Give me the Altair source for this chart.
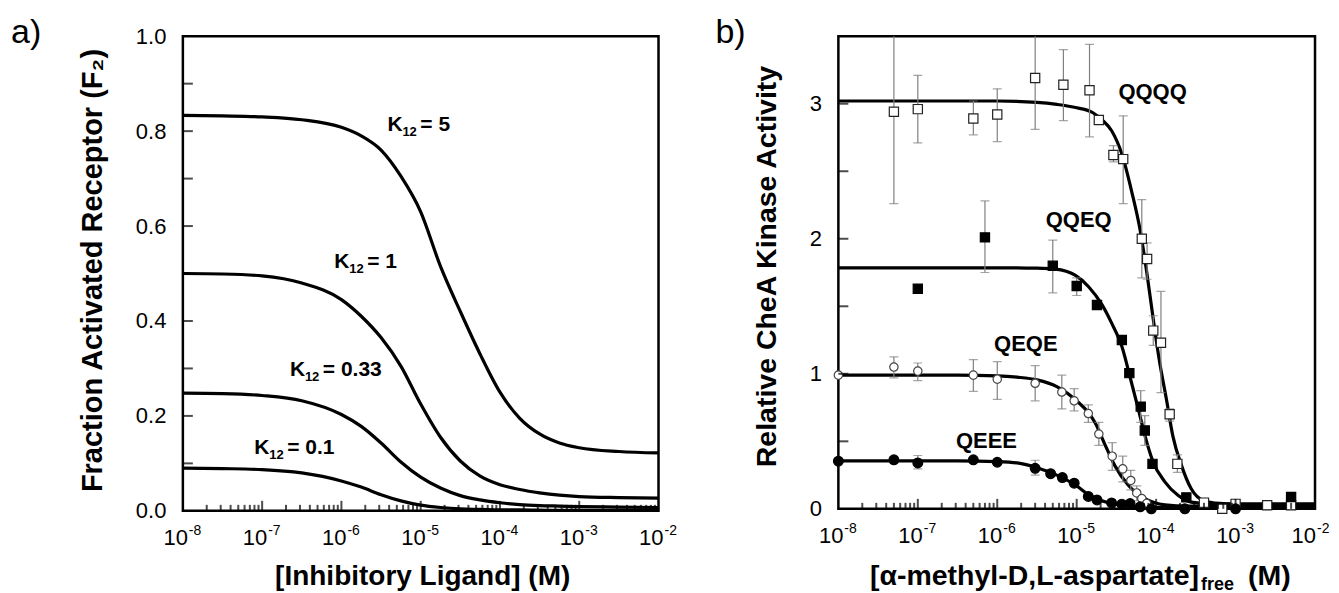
import altair as alt
import pandas as pd

FONT = "Liberation Sans"
W_A, H_A = 476, 475
W_B, H_B = 477, 473

# ---------------- panel a : model curves (log10 [L], F2) ----------------
a_lg = [-8, -7.5, -7, -6.5, -6, -5.75, -5.5, -5.25, -5, -4.75, -4.5, -4.25, -4,
        -3.75, -3.5, -3.25, -3, -2.5, -2]
a_k5 = [0.833, 0.832, 0.830, 0.824, 0.808, 0.790, 0.760, 0.705, 0.630, 0.515, 0.420,
        0.330, 0.250, 0.195, 0.162, 0.143, 0.133, 0.125, 0.122]
a_k1 = [0.500, 0.499, 0.495, 0.480, 0.445, 0.410, 0.365, 0.305, 0.225, 0.155, 0.105,
        0.073, 0.055, 0.045, 0.038, 0.033, 0.030, 0.028, 0.027]
a_k033 = [0.248, 0.247, 0.243, 0.232, 0.203, 0.178, 0.143, 0.103, 0.071, 0.048, 0.032,
          0.023, 0.017, 0.013, 0.011, 0.010, 0.009, 0.008, 0.007]
a_k01 = [0.090, 0.089, 0.087, 0.080, 0.063, 0.050, 0.034, 0.021, 0.012, 0.007, 0.004,
         0.003, 0.002, 0.002, 0.0015, 0.001, 0.001, 0.001, 0.001]
a_lab_val = ["= 5", "= 1", "= 0.33", "= 0.1"]
a_lab_lg = [-5.42, -6.09, -6.65, -7.10]
a_lab_y = [0.801, 0.512, 0.284, 0.119]

# ---------------- panel b : fitted curves ----------------
qqqq_lg = [-8, -6, -5.5, -5.25, -5, -4.8, -4.68, -4.56, -4.43, -4.31, -4.2, -4.12, -4.04,
           -3.96, -3.87, -3.79, -3.68, -3.56, -3.4, -3.2, -3, -2]
qqqq_fit = [3.02, 3.02, 3.01, 2.995, 2.97, 2.935, 2.88, 2.80, 2.625, 2.355, 2.06, 1.76, 1.42,
            1.10, 0.81, 0.54, 0.32, 0.15, 0.06, 0.04, 0.035, 0.035]
qqeq_lg = [-8, -6, -5.5, -5.27, -5.02, -4.85, -4.68, -4.56, -4.43, -4.33, -4.225, -4.14,
           -4.04, -3.89, -3.725, -3.56, -3.3, -3, -2]
qqeq_fit = [1.785, 1.785, 1.782, 1.775, 1.73, 1.645, 1.51, 1.375, 1.20, 0.98, 0.74, 0.54,
            0.35, 0.20, 0.10, 0.05, 0.036, 0.035, 0.035]
qeqe_lg = [-8, -6.5, -6, -5.75, -5.5, -5.25, -5.0, -4.85, -4.77, -4.64, -4.52, -4.35, -4.14,
           -3.89, -3.6, -3, -2]
qeqe_fit = [0.99, 0.99, 0.985, 0.975, 0.955, 0.905, 0.80, 0.71, 0.64, 0.47, 0.32, 0.175,
            0.076, 0.03, 0.02, 0.02, 0.02]
qeee_lg = [-8, -6.5, -6, -5.75, -5.5, -5.25, -5.0, -4.85, -4.72, -4.52, -4.22, -3.9, -3, -2]
qeee_fit = [0.355, 0.355, 0.35, 0.34, 0.305, 0.25, 0.17, 0.105, 0.068, 0.035, 0.016, 0.01,
            0.01, 0.01]

# ---------------- panel b : measured points ----------------
qqqq_x = [5e-8, 1e-7, 5e-7, 1e-6, 3e-6, 6.8e-6, 1.45e-5, 1.9e-5, 2.9e-5, 3.85e-5, 6.6e-5,
          7.7e-5, 9.2e-5, 1.15e-4, 1.48e-4, 1.85e-4, 4e-4, 6.8e-4, 1e-3, 2.5e-3, 5e-3]
qqqq_y = [2.94, 2.96, 2.89, 2.92, 3.19, 3.14, 3.10, 2.88, 2.62, 2.59, 2.00, 1.85, 1.32,
          1.23, 0.70, 0.333, 0.046, 0.0, 0.037, 0.027, 0.027]
qqqq_lo = [2.26, 2.71, 2.77, 2.72, 2.81, 2.875, 2.755, None, 2.57, 2.26, 1.71, 1.70, 1.21,
           0.86, 0.65, 0.27, None, None, None, None, None]
qqqq_hi = [3.6, 3.21, 3.02, 3.11, 3.6, 3.40, 3.44, None, 2.69, 2.91, 2.29, 1.97, 1.43,
           1.61, 0.74, 0.40, None, None, None, None, None]

qqeq_x = [1e-7, 7e-7, 5e-6, 1e-5, 1.8e-5, 3.7e-5, 4.6e-5, 6.4e-5, 7.2e-5, 9e-5, 2.4e-4, 5e-3]
qqeq_y = [1.63, 2.01, 1.80, 1.65, 1.51, 1.25, 1.005, 0.757, 0.58, 0.333, 0.085, 0.088]
qqeq_lo = [None, 1.75, 1.60, 1.58, None, None, None, 0.64, 0.47, None, None, 0.06]
qqeq_hi = [None, 2.28, 1.99, 1.71, None, None, None, 0.875, 0.69, None, None, 0.115]

qeqe_x = [1e-8, 5e-8, 1e-7, 5e-7, 1e-6, 3e-6, 6.5e-6, 9.3e-6, 1.4e-5, 1.9e-5, 2.8e-5,
          3.8e-5, 4.8e-5, 5.7e-5, 6.6e-5, 7.6e-5]
qeqe_y = [0.99, 1.05, 1.02, 0.99, 0.96, 0.93, 0.865, 0.80, 0.706, 0.554, 0.39, 0.296,
          0.21, 0.118, 0.076, 0.04]
qeqe_lo = [None, 0.97, 0.95, 0.87, 0.81, 0.80, 0.74, 0.725, 0.64, 0.47, 0.285, 0.20,
           0.14, 0.06, None, None]
qeqe_hi = [None, 1.125, 1.08, 1.105, 1.09, 1.06, 0.99, 0.89, 0.77, 0.64, 0.49, 0.39,
           0.285, 0.17, None, None]

qeee_x = [1e-8, 5e-8, 1e-7, 5e-7, 1e-6, 3e-6, 4.7e-6, 6.6e-6, 9.3e-6, 1.4e-5, 1.8e-5,
          2.75e-5, 3.7e-5, 4.7e-5, 6.3e-5, 8.7e-5, 2.3e-4, 1e-3]
qeee_y = [0.353, 0.363, 0.34, 0.363, 0.345, 0.30, 0.26, 0.232, 0.19, 0.092, 0.066, 0.044,
          0.035, 0.039, 0.015, 0.0, 0.0, 0.0]
qeee_lo = [None, 0.34, 0.296, None, None, 0.25, None, None, None, None, None, None,
           None, None, None, None, None, None]
qeee_hi = [None, 0.385, 0.395, None, None, 0.36, None, None, None, None, None, None,
           None, None, None, None, None, None]

b_lab = ["QQQQ", "QQEQ", "QEQE", "QEEE"]
b_lab_lg = [-4.475, -5.39, -6.04, -6.52]
b_lab_y = [3.037, 2.086, 1.167, 0.451]

# ---------------- axis tick values ----------------
dec_vals = [1e-8, 1e-7, 1e-6, 1e-5, 1e-4, 1e-3, 1e-2]
dec_exp = ["-8", "-7", "-6", "-5", "-4", "-3", "-2"]
minor_mult = [2, 3, 4, 5, 6, 7, 8, 9]


def curve_df(lg, vals, name):
    return pd.DataFrame({"conc": [10 ** v for v in lg], "val": vals, "series": name})


def pts_df(xs, ys, lo, hi):
    return pd.DataFrame({"conc": xs, "val": ys, "lo": lo, "hi": hi})


XS = alt.Scale(type="log", domain=[1e-8, 1e-2], nice=False)
X = alt.X("conc:Q", scale=XS, axis=None)


def one_row():
    return pd.DataFrame({"k": [0]})


def y_axis(values, fmt):
    return alt.Axis(values=values, format=fmt, ticks=False, domain=False, grid=False,
                    labelFont=FONT, labelFontSize=22, labelColor="black", labelPadding=17,
                    labelFlush=False, labelOverlap=False, title=None)


def x_axis_layers(H, last_shift=0):
    majors = pd.DataFrame({"conc": dec_vals[1:-1]})
    minors = pd.DataFrame({"conc": [m * d for d in dec_vals[:-1] for m in minor_mult]})
    labs_main = pd.DataFrame({"conc": dec_vals[:-1], "e": dec_exp[:-1]})
    labs_last = pd.DataFrame({"conc": dec_vals[-1:], "e": dec_exp[-1:]})
    layers = [
        alt.Chart(majors).mark_tick(orient="vertical", size=10, thickness=2, color="black")
        .encode(x=X, y=alt.value(H - 5)),
        alt.Chart(minors).mark_tick(orient="vertical", size=6, thickness=2, color="black")
        .encode(x=X, y=alt.value(H - 3)),
    ]
    for labs, sh in ((labs_main, 0), (labs_last, last_shift)):
        layers.append(alt.Chart(labs).mark_text(text="10", align="right", dx=5 - sh,
                                                baseline="alphabetic", font=FONT,
                                                fontSize=22, color="black")
                      .encode(x=X, y=alt.value(H + 34)))
        layers.append(alt.Chart(labs).mark_text(align="left", dx=6 - sh, baseline="alphabetic",
                                                font=FONT, fontSize=14, color="black")
                      .encode(x=X, y=alt.value(H + 24), text="e:N"))
    return layers


# ======================= panel a =======================
a_curves = pd.concat([curve_df(a_lg, a_k5, "5"), curve_df(a_lg, a_k1, "1"),
                      curve_df(a_lg, a_k033, "0.33"), curve_df(a_lg, a_k01, "0.1")])
YA_scale = alt.Scale(domain=[0, 1], nice=False, zero=False)
YA = alt.Y("val:Q", scale=YA_scale, axis=y_axis([0, 0.2, 0.4, 0.6, 0.8, 1.0], ".1f"))

a_line = alt.Chart(a_curves).mark_line(color="black", strokeWidth=3.2,
                                       interpolate="monotone").encode(x=X, y=YA, detail="series:N")
a_yt = alt.Chart(pd.DataFrame({"val": [0.1, 0.2, 0.3, 0.4, 0.5, 0.6, 0.7, 0.8, 0.9]})) \
    .mark_tick(orient="horizontal", size=10, thickness=2, color="black") \
    .encode(x=alt.value(5), y=YA)
a_ann = pd.DataFrame({"conc": [10 ** v for v in a_lab_lg], "val": a_lab_y, "t": a_lab_val})
a_K = alt.Chart(a_ann).mark_text(text="K", align="left", baseline="alphabetic", font=FONT,
                                 fontSize=21, fontWeight="bold", color="black").encode(x=X, y=YA)
a_sub = alt.Chart(a_ann).mark_text(text="12", align="left", baseline="alphabetic", dx=15, dy=5,
                                   font=FONT, fontSize=13, fontWeight="bold",
                                   color="black").encode(x=X, y=YA)
a_rest = alt.Chart(a_ann).mark_text(align="left", baseline="alphabetic", dx=33, font=FONT,
                                    fontSize=21, fontWeight="bold",
                                    color="black").encode(x=X, y=YA, text="t:N")
a_tag = alt.Chart(one_row()).mark_text(text="a)", align="left", baseline="alphabetic",
                                       font=FONT, fontSize=34, color="black") \
    .encode(x=alt.value(-172), y=alt.value(7))
a_ytitle = alt.Chart(one_row()).mark_text(text="Fraction Activated Receptor (F\u2082)",
                                          angle=270, align="center", baseline="middle",
                                          font=FONT, fontSize=29, fontWeight="bold",
                                          color="black") \
    .encode(x=alt.value(-90), y=alt.value(H_A / 2 - 3))
a_xtitle = alt.Chart(one_row()).mark_text(text="[Inhibitory Ligand] (M)", align="center",
                                          baseline="alphabetic", font=FONT, fontSize=28,
                                          fontWeight="bold", color="black") \
    .encode(x=alt.value(W_A / 2 + 2), y=alt.value(H_A + 74))

panel_a = alt.layer(a_line, a_yt, *x_axis_layers(H_A), a_K, a_sub, a_rest, a_tag,
                    a_ytitle, a_xtitle).properties(width=W_A, height=H_A)

# ======================= panel b =======================
b_curves = pd.concat([curve_df(qqqq_lg, qqqq_fit, "QQQQ"), curve_df(qqeq_lg, qqeq_fit, "QQEQ"),
                      curve_df(qeqe_lg, qeqe_fit, "QEQE"), curve_df(qeee_lg, qeee_fit, "QEEE")])
YB_scale = alt.Scale(domain=[0, 3.5], nice=False, zero=False)
YB_axis = y_axis([0, 1, 2, 3], "d")
YB = alt.Y("val:Q", scale=YB_scale, axis=YB_axis)
YB_lo = alt.Y("lo:Q", scale=YB_scale, axis=YB_axis)
YB_hi = alt.Y("hi:Q", scale=YB_scale, axis=YB_axis)

sets = [
    (pts_df(qqqq_x, qqqq_y, qqqq_lo, qqqq_hi), "square", "white", "#222222", 85),
    (pts_df(qqeq_x, qqeq_y, qqeq_lo, qqeq_hi), "square", "black", "black", 85),
    (pts_df(qeqe_x, qeqe_y, qeqe_lo, qeqe_hi), "circle", "white", "#444444", 70),
    (pts_df(qeee_x, qeee_y, qeee_lo, qeee_hi), "circle", "black", "black", 95),
]
err_all = pd.concat([s[0] for s in sets]).dropna(subset=["lo", "hi"])

b_line = alt.Chart(b_curves).mark_line(color="black", strokeWidth=3.2,
                                       interpolate="monotone").encode(x=X, y=YB, detail="series:N")
b_err = alt.Chart(err_all).mark_rule(color="#808080", strokeWidth=1.2, clip=True) \
    .encode(x=X, y=YB_lo, y2="hi:Q")
b_cap_lo = alt.Chart(err_all).mark_tick(orient="horizontal", size=9, thickness=1.2,
                                        color="#808080", clip=True).encode(x=X, y=YB_lo)
b_cap_hi = alt.Chart(err_all).mark_tick(orient="horizontal", size=9, thickness=1.2,
                                        color="#808080", clip=True).encode(x=X, y=YB_hi)
b_pts = [alt.Chart(df).mark_point(shape=shp, filled=True, fill=fill, stroke=stroke,
                                  strokeWidth=1.2, size=size, opacity=1)
         .encode(x=X, y=YB) for df, shp, fill, stroke, size in sets]
b_yt = alt.Chart(pd.DataFrame({"val": [0.5, 1, 1.5, 2, 2.5, 3]})) \
    .mark_tick(orient="horizontal", size=10, thickness=2, color="black") \
    .encode(x=alt.value(5), y=YB)
b_ann = pd.DataFrame({"conc": [10 ** v for v in b_lab_lg], "val": b_lab_y, "t": b_lab})
b_text = alt.Chart(b_ann).mark_text(align="left", baseline="alphabetic", font=FONT,
                                    fontSize=22, fontWeight="bold", color="black") \
    .encode(x=X, y=YB, text="t:N")
b_tag = alt.Chart(one_row()).mark_text(text="b)", align="left", baseline="alphabetic",
                                       font=FONT, fontSize=34, color="black") \
    .encode(x=alt.value(-123), y=alt.value(7))
b_ytitle = alt.Chart(one_row()).mark_text(text="Relative CheA Kinase Activity", angle=270,
                                          align="center", baseline="middle", font=FONT,
                                          fontSize=28.5, fontWeight="bold", color="black") \
    .encode(x=alt.value(-71), y=alt.value(H_B / 2 - 6))
b_xt_main = alt.Chart(one_row()).mark_text(text="[\u03b1-methyl-D,L-aspartate]", align="right",
                                           baseline="alphabetic", font=FONT, fontSize=28.5,
                                           fontWeight="bold", color="black") \
    .encode(x=alt.value(361), y=alt.value(H_B + 76))
b_xt_sub = alt.Chart(one_row()).mark_text(text="free", align="left", baseline="alphabetic",
                                          font=FONT, fontSize=18, fontWeight="bold",
                                          color="black") \
    .encode(x=alt.value(363), y=alt.value(H_B + 81))
b_xt_m = alt.Chart(one_row()).mark_text(text="(M)", align="left", baseline="alphabetic",
                                        font=FONT, fontSize=28.5, fontWeight="bold",
                                        color="black") \
    .encode(x=alt.value(410), y=alt.value(H_B + 76))

panel_b = alt.layer(b_line, b_err, b_cap_lo, b_cap_hi, *b_pts, b_yt,
                    *x_axis_layers(H_B, last_shift=4),
                    b_text, b_tag, b_ytitle, b_xt_main, b_xt_sub, b_xt_m) \
    .properties(width=W_B, height=H_B)

chart = alt.hconcat(panel_a, panel_b, spacing=180, bounds="flush") \
    .configure_view(stroke="black", strokeWidth=2.5) \
    .properties(padding={"left": 1, "top": 6, "right": 0, "bottom": 0}, background="white")

chart.save("out.html", embed_options={"renderer": "svg", "actions": False})
